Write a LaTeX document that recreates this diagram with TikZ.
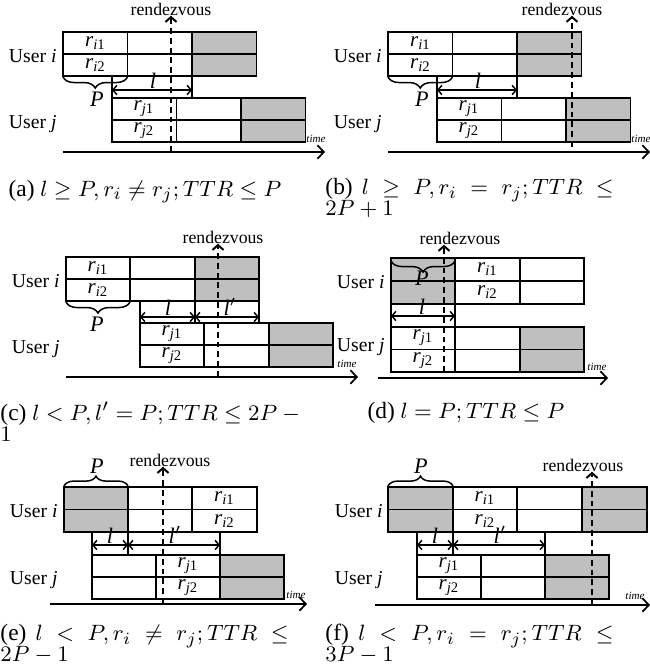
\documentclass[tikz,border=0pt]{standalone}
\usepackage[no-math]{fontspec}
\setmainfont{Liberation Serif}
\usetikzlibrary{arrows.meta,decorations.pathreplacing}

\newcommand{\rsub}[2]{\textit{r}\textsubscript{\textit{#1}#2}}
\newcommand{\tightcap}{\lineskiplimit-20pt\relax}

\tikzset{
  cell/.style={draw,line width=0.8pt},
  slotgray/.style={fill=black!25},
  rdv/.style={line width=0.8pt,dash pattern=on 2.4pt off 1.6pt,-{Straight Barb[length=2pt,width=4.5pt]}},
  timeaxis/.style={line width=0.7pt,-{Straight Barb[length=2.6pt,width=5.5pt]}},
  lmark/.style={line width=0.6pt},
  lspan/.style={line width=0.6pt,{Straight Barb[length=1.6pt,width=3.8pt]}-{Straight Barb[length=1.6pt,width=3.8pt]}},
  brcdown/.style={decorate,decoration={brace,mirror,amplitude=4.5pt},line width=0.6pt},
  brcup/.style={decorate,decoration={brace,amplitude=4pt},line width=0.6pt},
  ulab/.style={anchor=base east,inner sep=0pt,font=\fontsize{8}{9}\selectfont},
  rlab/.style={inner sep=0pt,font=\fontsize{8.5}{9}\selectfont},
  plab/.style={inner sep=0pt,font=\fontsize{9}{10}\selectfont},
  llab/.style={anchor=south,inner sep=0.3pt,font=\fontsize{9}{10}\selectfont},
  rzlab/.style={inner sep=0pt,font=\fontsize{7.2}{8}\selectfont},
  tmlab/.style={inner sep=0pt,font=\fontsize{4.5}{5}\selectfont\itshape},
  capc/.style={anchor=base,inner sep=0pt,font=\fontsize{9.5}{8.4}\selectfont},
  capj/.style={anchor=north west,inner sep=0pt,text width=117pt,align=justify,
    font=\fontsize{9.5}{8.4}\selectfont\tightcap},
}

\begin{document}
\begin{tikzpicture}[x=0.406pt,y=-0.406pt]
\useasboundingbox (0,0) rectangle (650,670);

% (a) l >= P, r_i ~= r_j
\begin{scope}[shift={(0,0)}]
\fill[slotgray] (192,32) rectangle (256.5,76);
\draw[cell] (63,32) rectangle (256.5,76) (63,54) -- (256.5,54) (127.5,32) -- (127.5,76) (192,32) -- (192,76);
\fill[slotgray] (241,98) rectangle (305.5,142);
\draw[cell] (112,98) rectangle (305.5,142) (112,120) -- (305.5,120) (176.5,98) -- (176.5,142) (241,98) -- (241,142);
\node[ulab] (uia) at (57,62) {User \textit{i}};
\node[ulab] (uja) at (57,128) {User \textit{j}};
\node[rlab] (ri1a) at (95.5,43) {\rsub{i}{1}};
\node[rlab] (ri2a) at (95.5,65) {\rsub{i}{2}};
\node[rlab] (rj1a) at (144,109) {\rsub{j}{1}};
\node[rlab] (rj2a) at (144,131) {\rsub{j}{2}};
\draw[brcdown] (63,77) -- (127.5,77);
\node[plab] (pa) at (97,99) {\textit{P}};
\draw[lmark] (112,76) -- (112,98) (192,76) -- (192,98);
\draw[lspan] (112,90) -- (192,90);
\node[llab] (la) at (153,90) {\textit{l}};
\node[rzlab] (rza) at (171,9) {rendezvous};
\coordinate (rva) at (171,152);
\draw[rdv] (rva) -- (rva |- rza.south);
\coordinate (t0a) at (63,152);
\coordinate (t1a) at (325,152);
\draw[timeaxis] (t0a) -- (t1a);
\node[tmlab] (tma) at (316,139) {time};
\node[capc] (capa) at (145,196) {(a) $l \geq P, r_i \neq r_j; TTR \leq P$};
\end{scope}

% (b) l >= P, r_i = r_j
\begin{scope}[shift={(325,0)}]
\fill[slotgray] (192,32) rectangle (256.5,76);
\draw[cell] (63,32) rectangle (256.5,76) (63,54) -- (256.5,54) (127.5,32) -- (127.5,76) (192,32) -- (192,76);
\fill[slotgray] (241,98) rectangle (305.5,142);
\draw[cell] (112,98) rectangle (305.5,142) (112,120) -- (305.5,120) (176.5,98) -- (176.5,142) (241,98) -- (241,142);
\node[ulab] (uib) at (57,62) {User \textit{i}};
\node[ulab] (ujb) at (57,128) {User \textit{j}};
\node[rlab] (ri1b) at (95.5,43) {\rsub{i}{1}};
\node[rlab] (ri2b) at (95.5,65) {\rsub{i}{2}};
\node[rlab] (rj1b) at (144,109) {\rsub{j}{1}};
\node[rlab] (rj2b) at (144,131) {\rsub{j}{2}};
\draw[brcdown] (63,77) -- (127.5,77);
\node[plab] (pb) at (97,99) {\textit{P}};
\draw[lmark] (112,76) -- (112,98) (192,76) -- (192,98);
\draw[lspan] (112,90) -- (192,90);
\node[llab] (lb) at (153,90) {\textit{l}};
\node[rzlab] (rzb) at (237,9) {rendezvous};
\coordinate (rvb) at (247,147);
\draw[rdv] (rvb) -- (rvb |- rzb.south);
\coordinate (t0b) at (63,152);
\coordinate (t1b) at (325,152);
\draw[timeaxis] (t0b) -- (t1b);
\node[tmlab] (tmb) at (316,139) {time};
\node[capj] (capb) at (0,178) {(b) $l \geq P, r_i = r_j; TTR \leq$\linebreak $2P+1$};
\end{scope}

% (c) l < P, l' = P
\begin{scope}[shift={(0,225)}]
\fill[slotgray] (195,32) rectangle (259,76);
\draw[cell] (66,32) rectangle (259,76) (66,54) -- (259,54) (130,32) -- (130,76) (195,32) -- (195,76);
\fill[slotgray] (269,98) rectangle (333,142);
\draw[cell] (140,98) rectangle (333,142) (140,120) -- (333,120) (204,98) -- (204,142) (269,98) -- (269,142);
\node[ulab] (uic) at (60,62) {User \textit{i}};
\node[ulab] (ujc) at (60,128) {User \textit{j}};
\node[rlab] (ri1c) at (98,43) {\rsub{i}{1}};
\node[rlab] (ri2c) at (98,65) {\rsub{i}{2}};
\node[rlab] (rj1c) at (172,109) {\rsub{j}{1}};
\node[rlab] (rj2c) at (172,131) {\rsub{j}{2}};
\draw[brcdown] (66,77) -- (130,77);
\node[plab] (pc) at (97,99) {\textit{P}};
\draw[lmark] (140,76) -- (140,98) (195,76) -- (195,98) (259,76) -- (259,98);
\draw[lspan] (140,92) -- (195,92);
\draw[lspan] (195,92) -- (259,92);
\node[llab] (lc) at (168,92) {\textit{l}};
\node[llab] (lpc) at (230,92) {\textit{l}$'$};
\node[rzlab] (rzc) at (223,12) {rendezvous};
\coordinate (rvc) at (218,152);
\draw[rdv] (rvc) -- (rvc |- rzc.south);
\coordinate (t0c) at (66,152);
\coordinate (t1c) at (358,152);
\draw[timeaxis] (t0c) -- (t1c);
\node[tmlab] (tmc) at (347,139) {time};
\node[capj] (capc) at (0,176) {\mbox{(c) $l < P, l' = P; TTR \leq 2P-{}$}\linebreak $1$};
\end{scope}

% (d) l = P
\begin{scope}[shift={(325,225)}]
\fill[slotgray] (66,33) rectangle (130,79);
\draw[cell] (66,33) rectangle (259,79) (66,56) -- (259,56) (130,33) -- (130,79) (195,33) -- (195,79);
\fill[slotgray] (195,102) rectangle (259,147);
\draw[cell] (66,102) rectangle (259,147) (66,124.5) -- (259,124.5) (130,102) -- (130,147) (195,102) -- (195,147);
\node[ulab] (uid) at (60,63) {User \textit{i}};
\node[ulab] (ujd) at (60,126) {User \textit{j}};
\node[rlab] (ri1d) at (162.5,44.5) {\rsub{i}{1}};
\node[rlab] (ri2d) at (162.5,67.5) {\rsub{i}{2}};
\node[rlab] (rj1d) at (98,113) {\rsub{j}{1}};
\node[rlab] (rj2d) at (98,136) {\rsub{j}{2}};
\draw[brcdown] (66,36) -- (130,36);
\node[plab] (pd) at (97,53) {\textit{P}};
\draw[lmark] (66,79) -- (66,102) (130,79) -- (130,102);
\draw[lspan] (66,91) -- (130,91);
\node[llab] (ld) at (97,91) {\textit{l}};
\node[rzlab] (rzd) at (135,13) {rendezvous};
\coordinate (rvd) at (119,147);
\draw[rdv] (rvd) -- (rvd |- rzd.south);
\coordinate (t0d) at (53,153);
\coordinate (t1d) at (283,153);
\draw[timeaxis] (t0d) -- (t1d);
\node[tmlab] (tmd) at (272,142) {time};
\node[capc] (capd) at (141,193) {(d) $l = P; TTR \leq P$};
\end{scope}

% (e) l < P, r_i ~= r_j
\begin{scope}[shift={(0,450)}]
\fill[slotgray] (64,37) rectangle (128,82);
\draw[cell] (64,37) rectangle (257,82) (64,59.5) -- (257,59.5) (128,37) -- (128,82) (192,37) -- (192,82);
\fill[slotgray] (220,105) rectangle (284,149);
\draw[cell] (92,105) rectangle (284,149) (92,127) -- (284,127) (156,105) -- (156,149) (220,105) -- (220,149);
\node[ulab] (uie) at (58,67) {User \textit{i}};
\node[ulab] (uje) at (58,134) {User \textit{j}};
\node[rlab] (ri1e) at (224.5,48) {\rsub{i}{1}};
\node[rlab] (ri2e) at (224.5,71) {\rsub{i}{2}};
\node[rlab] (rj1e) at (188,116) {\rsub{j}{1}};
\node[rlab] (rj2e) at (188,138) {\rsub{j}{2}};
\draw[brcup] (64,36) -- (128,36);
\node[plab] (pe) at (97,16) {\textit{P}};
\draw[lmark] (92,82) -- (92,105) (128,82) -- (128,105) (220,82) -- (220,105);
\draw[lspan] (92,95) -- (128,95);
\draw[lspan] (128,95) -- (220,95);
\node[llab] (le) at (110,95) {\textit{l}};
\node[llab] (lpe) at (175,95) {\textit{l}$'$};
\node[rzlab] (rze) at (170,10) {rendezvous};
\coordinate (rve) at (163,154);
\draw[rdv] (rve) -- (rve |- rze.south);
\coordinate (t0e) at (50,154);
\coordinate (t1e) at (307,154);
\draw[timeaxis] (t0e) -- (t1e);
\node[tmlab] (tme) at (296,145) {time};
\node[capj] (cape) at (0,174) {(e) $l < P, r_i \neq r_j; TTR \leq$\linebreak $2P-1$};
\end{scope}

% (f) l < P, r_i = r_j
\begin{scope}[shift={(325,450)}]
\fill[slotgray] (63,37) rectangle (128,82) (257,37) rectangle (322,82);
\draw[cell] (63,37) rectangle (322,82) (63,59.5) -- (322,59.5) (128,37) -- (128,82) (192,37) -- (192,82) (257,37) -- (257,82);
\fill[slotgray] (220,105) rectangle (284,149);
\draw[cell] (92,105) rectangle (284,149) (92,127) -- (284,127) (156,105) -- (156,149) (220,105) -- (220,149);
\node[ulab] (uif) at (58,67) {User \textit{i}};
\node[ulab] (ujf) at (58,134) {User \textit{j}};
\node[rlab] (ri1f) at (160,48) {\rsub{i}{1}};
\node[rlab] (ri2f) at (160,71) {\rsub{i}{2}};
\node[rlab] (rj1f) at (124,116) {\rsub{j}{1}};
\node[rlab] (rj2f) at (124,138) {\rsub{j}{2}};
\draw[brcup] (63,36) -- (128,36);
\node[plab] (pf) at (96,16) {\textit{P}};
\draw[lmark] (92,82) -- (92,105) (128,82) -- (128,105) (220,82) -- (220,105);
\draw[lspan] (92,95) -- (128,95);
\draw[lspan] (128,95) -- (220,95);
\node[llab] (lf) at (110,95) {\textit{l}};
\node[llab] (lpf) at (175,95) {\textit{l}$'$};
\node[rzlab] (rzf) at (258,15) {rendezvous};
\coordinate (rvf) at (267,155);
\draw[rdv] (rvf) -- (rvf |- rzf.south);
\coordinate (t0f) at (50,155);
\coordinate (t1f) at (325,155);
\draw[timeaxis] (t0f) -- (t1f);
\node[tmlab] (tmf) at (310,146) {time};
\node[capj] (capf) at (0,174) {(f) $l < P, r_i = r_j; TTR \leq$\linebreak $3P-1$};
\end{scope}
\end{tikzpicture}
\end{document}
